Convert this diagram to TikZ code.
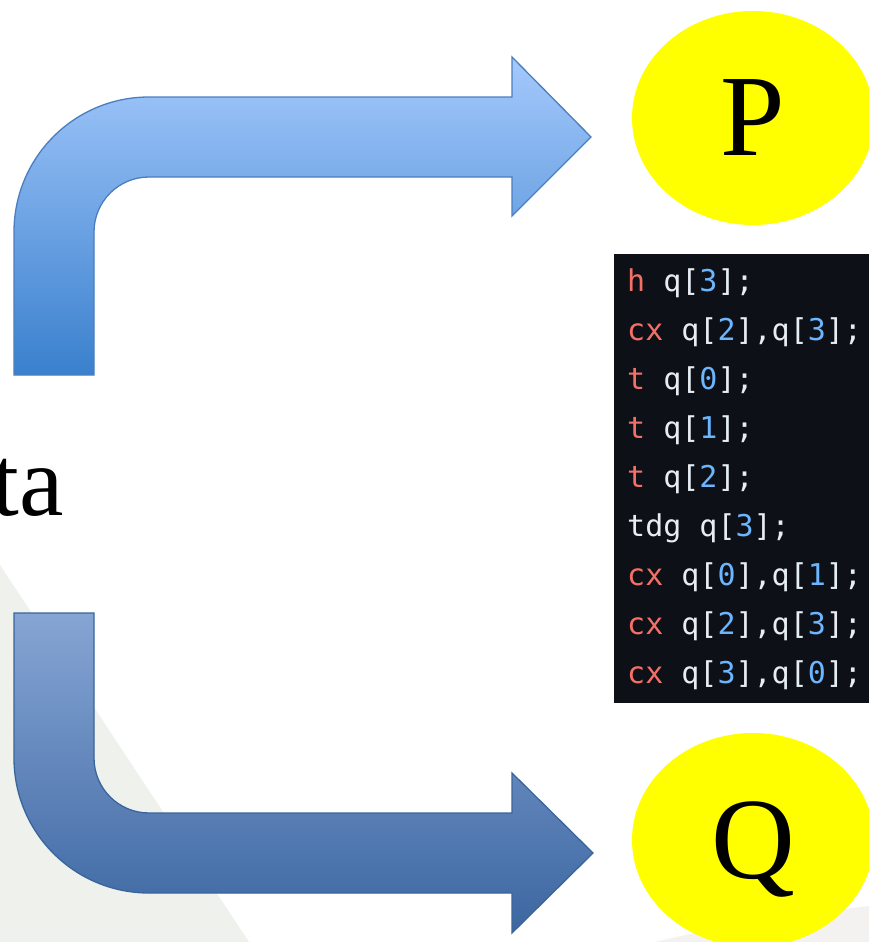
\documentclass[tikz,border=0pt]{standalone}
\usepackage{fontspec}
\setmainfont{Liberation Serif}
\newfontfamily\codefont{DejaVu Sans Mono}
\usetikzlibrary{shapes.geometric}

\definecolor{codebg}{HTML}{0D1117}
\definecolor{codefg}{HTML}{E6EDF3}
\definecolor{codekw}{HTML}{F47067}
\definecolor{codenum}{HTML}{6CB6FF}
\definecolor{pagegray}{HTML}{EEF1EC}
\definecolor{cornergray}{HTML}{F3F2F0}
\definecolor{upTop}{HTML}{A4C9FC}
\definecolor{upBot}{HTML}{3A80CD}
\definecolor{upLine}{HTML}{4A7EBF}
\definecolor{dnTop}{HTML}{86A5D4}
\definecolor{dnBot}{HTML}{3C66A1}
\definecolor{dnLine}{HTML}{3A659C}
\definecolor{bubblefill}{RGB}{255,255,0}

\newcommand\ckw[1]{\textcolor{codekw}{#1}}
\newcommand\cnum[1]{\textcolor{codenum}{#1}}

\tikzset{
  bentarrow/.style={line width=1.3pt, line join=miter},
  bubble/.style={ellipse, fill=bubblefill, draw=none, minimum width=242pt,
    minimum height=214pt, inner sep=0pt, text depth=0pt,
    font=\fontsize{116}{116}\selectfont},
  codeline/.style={anchor=base west, inner sep=0pt, text=codefg,
    font=\codefont\fontsize{30}{36}\selectfont},
}

\begin{document}
\begin{tikzpicture}[x=1pt, y=-1pt]
  % page
  \fill[white] (0,0) rectangle (868,942);
  \useasboundingbox (0,0) rectangle (868,942);

  % background slide shapes
  \fill[pagegray] (0,565) -- (249,942) -- (0,942) -- cycle;
  \fill[cornergray] (655,942) .. controls (740,922) and (800,914) .. (870,906)
    -- (870,942) -- cycle;

  % upper bent arrow
  \draw[bentarrow, draw=upLine, top color=upTop, bottom color=upBot]
    (14,375) -- (14,232)
    .. controls (14,157.4) and (74.4,97) .. (149,97)
    -- (512,97) -- (512,57) -- (591,137) -- (512,216) -- (512,177)
    -- (149,177)
    .. controls (118.6,177) and (94,201.6) .. (94,232)
    -- (94,375) -- cycle;

  % lower bent arrow
  \draw[bentarrow, draw=dnLine, top color=dnTop, bottom color=dnBot]
    (14,613) -- (94,613) -- (94,758)
    .. controls (94,788.4) and (118.6,813) .. (149,813)
    -- (512,813) -- (512,773) -- (593,853) -- (512,933) -- (512,893)
    -- (149,893)
    .. controls (74.4,893) and (14,832.6) .. (14,758) -- cycle;

  % label on the left
  \node[anchor=base east, inner sep=0pt, font=\fontsize{100}{100}\selectfont]
    (data) at (64,515) {ta};

  % code panel
  \node[anchor=north west, fill=codebg, inner sep=0pt,
        minimum width=260pt, minimum height=449pt] (codebox) at (614,254) {};
  \node[codeline] (l1) at (627,291) {\ckw{h} q[\cnum{3}];};
  \node[codeline] (l2) at (627,340) {\ckw{cx} q[\cnum{2}],q[\cnum{3}];};
  \node[codeline] (l3) at (627,389) {\ckw{t} q[\cnum{0}];};
  \node[codeline] (l4) at (627,438) {\ckw{t} q[\cnum{1}];};
  \node[codeline] (l5) at (627,487) {\ckw{t} q[\cnum{2}];};
  \node[codeline] (l6) at (627,536) {tdg q[\cnum{3}];};
  \node[codeline] (l7) at (627,585) {\ckw{cx} q[\cnum{0}],q[\cnum{1}];};
  \node[codeline] (l8) at (627,634) {\ckw{cx} q[\cnum{2}],q[\cnum{3}];};
  \node[codeline] (l9) at (627,683) {\ckw{cx} q[\cnum{3}],q[\cnum{0}];};

  % targets
  \node[bubble] (P) at (753,118) {P};
  \node[bubble] (Q) at (753,840) {Q};
\end{tikzpicture}
\end{document}
